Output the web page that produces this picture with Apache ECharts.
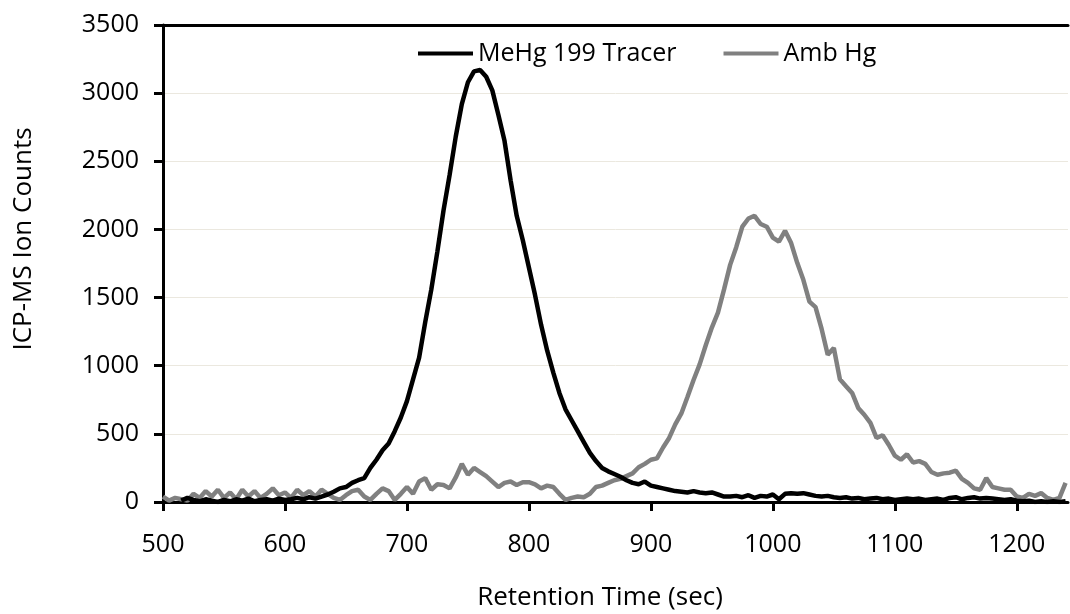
<!DOCTYPE html>
<html lang="en">
<head>
	<meta charset="UTF-8">
	<title>retention</title>
	<style>body{margin:0;background:#fff}</style>
</head>
<body>
	<div id="main" style="width: 1070px;height: 614px"></div>
	<script src="https://cdn.jsdelivr.net/npm/echarts@6/dist/echarts.min.js"></script>
	<script>
		// retention time (sec), 5 s steps
		var times = [
			500,505,510,515,520,525,530,535,540,545,
			550,555,560,565,570,575,580,585,590,595,
			600,605,610,615,620,625,630,635,640,645,
			650,655,660,665,670,675,680,685,690,695,
			700,705,710,715,720,725,730,735,740,745,
			750,755,760,765,770,775,780,785,790,795,
			800,805,810,815,820,825,830,835,840,845,
			850,855,860,865,870,875,880,885,890,895,
			900,905,910,915,920,925,930,935,940,945,
			950,955,960,965,970,975,980,985,990,995,
			1000,1005,1010,1015,1020,1025,1030,1035,1040,1045,
			1050,1055,1060,1065,1070,1075,1080,1085,1090,1095,
			1100,1105,1110,1115,1120,1125,1130,1135,1140,1145,
			1150,1155,1160,1165,1170,1175,1180,1185,1190,1195,
			1200,1205,1210,1215,1220,1225,1230,1235,1240
		]
		var tracer = [
			null,null,null,10,30,15,5,20,10,0,
			15,5,20,10,25,5,15,20,10,25,
			15,20,30,20,35,25,40,55,75,100,
			110,140,160,175,250,310,380,430,520,620,
			740,900,1060,1320,1560,1840,2140,2400,2680,2920,
			3080,3160,3170,3120,3020,2840,2650,2360,2100,1920,
			1720,1520,1300,1110,950,800,680,600,520,440,
			360,300,250,225,205,185,160,140,130,150,
			120,110,100,90,80,75,70,80,70,65,
			70,55,40,40,45,35,50,30,45,40,
			55,20,60,65,60,65,55,45,40,45,
			35,30,35,25,30,20,25,30,20,25,
			15,20,25,20,25,15,20,25,15,30,
			35,20,30,35,25,30,25,20,15,20,
			10,5,10,0,5,0,5,0,5
		]
		var ambient = [
			40,10,30,20,10,60,30,80,40,90,
			30,70,20,90,40,80,30,60,100,50,
			70,30,90,50,80,40,90,60,30,15,
			50,80,90,40,15,60,100,80,15,60,
			110,60,150,175,90,130,125,100,180,280,
			200,250,220,190,150,110,140,150,125,145,
			145,130,100,120,110,60,15,30,40,35,
			60,110,120,140,160,170,190,210,255,280,
			310,320,400,470,570,650,770,895,1010,1150,
			1280,1390,1560,1740,1870,2020,2080,2100,2040,2020,
			1940,1910,1990,1900,1755,1630,1470,1430,1270,1080,
			1130,900,850,800,690,640,580,470,490,420,
			340,310,350,290,300,280,220,200,210,215,
			230,170,140,100,90,175,110,100,90,90,
			40,30,60,45,65,30,15,30,140
		]
		var seriesNames = ['MeHg 199 Tracer', 'Amb Hg']

		function pairs(vals) {
			return times.map(function (t, i) { return [t, vals[i]] })
		}
		function plain(v) { return String(v) }

		var font = 'Open Sans'
		var myChart = echarts.init(document.getElementById('main'))
		var option = {
			animation: false,
			color: ['#000000', '#808080'],
			textStyle: { fontFamily: font },
			grid: { left: 163, right: 2, top: 25, bottom: 112, containLabel: false },
			legend: {
				data: seriesNames,
				left: 413, top: 36,
				icon: 'rect',
				itemWidth: 55, itemHeight: 4, itemGap: 47,
				textStyle: { fontFamily: font, fontSize: 25, color: '#000' }
			},
			xAxis: [{
				type: 'value', min: 500, max: 1242, interval: 100,
				axisLine: { lineStyle: { color: '#000', width: 3 } },
				axisTick: { show: true, length: 9, lineStyle: { color: '#000', width: 3 } },
				axisLabel: { fontSize: 25, color: '#000', margin: 30, fontFamily: font,
					showMaxLabel: false, formatter: plain },
				splitLine: { show: false }
			}, {
				type: 'value', min: 500, max: 1242, position: 'top',
				axisLine: { show: true, lineStyle: { color: '#000', width: 3 } },
				axisTick: { show: false }, axisLabel: { show: false }, splitLine: { show: false }
			}],
			yAxis: {
				type: 'value', min: 0, max: 3500, interval: 500,
				axisLine: { show: true, lineStyle: { color: '#000', width: 3 } },
				axisTick: { show: true, length: 9, lineStyle: { color: '#000', width: 3 } },
				axisLabel: { fontSize: 25, color: '#000', margin: 24, fontFamily: font,
					formatter: plain },
				splitLine: { lineStyle: { color: '#ebe8df', width: 1 } }
			},
			graphic: [{
				type: 'text', x: 600, y: 598,
				style: { text: 'Retention Time (sec)', font: '26px "Open Sans"', fill: '#000',
					textAlign: 'center', textVerticalAlign: 'middle' }
			}, {
				type: 'text', x: 24, y: 239, rotation: Math.PI / 2,
				style: { text: 'ICP-MS Ion Counts', font: '26px "Open Sans"', fill: '#000',
					textAlign: 'center', textVerticalAlign: 'middle' }
			}],
			series: [{
				name: seriesNames[0], type: 'line', data: pairs(tracer),
				showSymbol: false, symbol: 'none', z: 3,
				lineStyle: { color: '#000', width: 4.5 }
			}, {
				name: seriesNames[1], type: 'line', data: pairs(ambient),
				showSymbol: false, symbol: 'none', z: 2,
				lineStyle: { color: '#808080', width: 4.5 }
			}]
		}
		myChart.setOption(option)
	</script>
</body>
</html>
